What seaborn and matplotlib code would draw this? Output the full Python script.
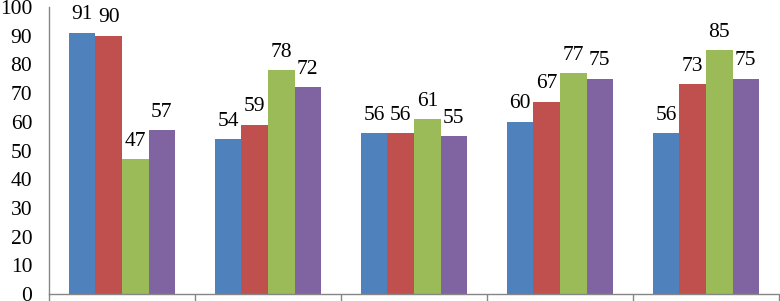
import matplotlib
matplotlib.use("Agg")
import matplotlib.pyplot as plt
import pandas as pd
import seaborn as sns

groups = ["A", "B", "C", "D", "E"]
series = ["S1", "S2", "S3", "S4"]
s1_values = [91, 54, 56, 60, 56]
s2_values = [90, 59, 56, 67, 73]
s3_values = [47, 78, 61, 77, 85]
s4_values = [57, 72, 55, 75, 75]
y_ticks = list(range(0, 101, 10))

palette = ["#4F81BD", "#C0504D", "#9BBB59", "#8064A2"]

rows = []
for name, vals in zip(series, [s1_values, s2_values, s3_values, s4_values]):
    for g, v in zip(groups, vals):
        rows.append({"group": g, "series": name, "value": v})
df = pd.DataFrame(rows)

sns.set_theme(style="white")
plt.rcParams["font.family"] = ["Liberation Serif", "DejaVu Serif"]

fig = plt.figure(figsize=(7.8, 3.01), dpi=100)
ax = fig.add_axes([49 / 780, 7 / 301, 730 / 780, 287 / 301])

sns.barplot(data=df, x="group", y="value", hue="series", order=groups,
            hue_order=series, palette=palette, width=0.727, gap=0,
            saturation=1, linewidth=0, edgecolor="none", legend=False, ax=ax)

for cont in ax.containers:
    ax.bar_label(cont, fmt="%d", padding=6, fontsize=15.5, color="black")

ax.set_ylim(0, 100)
ax.set_yticks(y_ticks)
ax.set_xlim(-0.5, len(groups) - 0.5)
ax.set_xticks([i - 0.5 for i in range(len(groups) + 1)])
ax.set_xticklabels([])
ax.set_xlabel("")
ax.set_ylabel("")

for side in ["top", "right"]:
    ax.spines[side].set_visible(False)
for side in ["left", "bottom"]:
    ax.spines[side].set_color("#868686")
    ax.spines[side].set_linewidth(1)

ax.tick_params(axis="y", length=0, labelsize=15.5, pad=12, colors="black")
ax.tick_params(axis="x", direction="out", length=5, width=1, color="#868686", bottom=True)
for lbl in ax.get_yticklabels():
    lbl.set_color("black")

fig.savefig("out.png", dpi=100)
